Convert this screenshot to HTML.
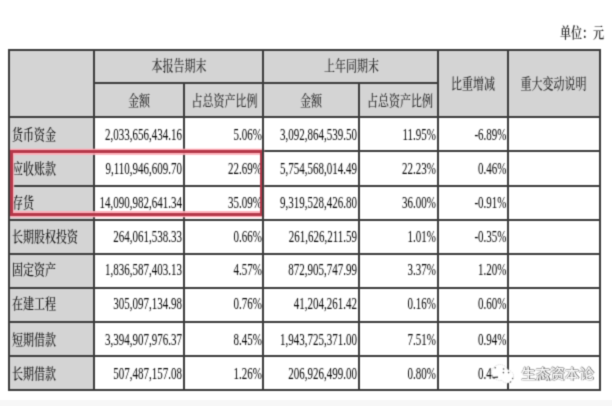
<!DOCTYPE html>
<html><head><meta charset="utf-8"><style>
html,body{margin:0;padding:0;background:#fff;}
body{width:612px;height:406px;position:relative;overflow:hidden;}
#w{position:absolute;left:0;top:0;width:612px;height:406px;background:#fff;filter:url(#fb);}
#w>div{position:absolute;}
.c,.n{height:20px;line-height:20px;font-size:11px;white-space:nowrap;color:#222;font-family:"Liberation Serif","Noto Serif CJK SC",serif;}
.c{transform:scaleY(1.3);font-weight:500;color:#111;}
.h{font-weight:500;color:#2c2c2c;}
.n{transform:scaleY(1.56);color:#000;}
.red{border:3px solid #b5394a;box-shadow:0 0 0 1.3px rgba(255,170,180,.95),inset 0 2px 0 0 rgba(255,175,185,.9),inset 0 -2px 0 0 rgba(255,175,185,.9),inset 1.2px 0 0 0 rgba(255,175,185,.9);}
.wm{height:20px;line-height:20px;font-size:14.6px;font-family:"Noto Sans CJK SC","WenQuanYi Zen Hei",sans-serif;color:#fff;
text-shadow:0.8px 0.9px 0 #4a4a4a,-0.6px 0 0 #999,0 -0.6px 0 #aaa;font-weight:500;transform:scaleY(0.93);}
.bot{background:#f7f7f7;}
</style></head><body><svg width="0" height="0" style="position:absolute"><filter id="fb" x="0" y="0" width="100%" height="100%" color-interpolation-filters="sRGB"><feConvolveMatrix order="3" kernelMatrix="0.0622 0.2494 0.0622 0.2494 1.0000 0.2494 0.0622 0.2494 0.0622" preserveAlpha="true" edgeMode="duplicate"/></filter></svg><div id="w">
<div class="bot" style="left:0;top:399.5px;width:612px;height:7px;"></div>
<div style="left:8px;top:49px;width:593px;height:67px;background:#d4d4d4;"></div>
<div style="left:8px;top:116px;width:85px;height:273px;background:#d4d4d4;"></div>
<div style="left:8px;top:49px;width:593px;height:2px;background:#3c3c3c;"></div>
<div style="left:8px;top:116px;width:593px;height:2px;background:#3c3c3c;"></div>
<div style="left:8px;top:150px;width:593px;height:2px;background:#3c3c3c;"></div>
<div style="left:8px;top:185px;width:593px;height:2px;background:#3c3c3c;"></div>
<div style="left:8px;top:219px;width:593px;height:2px;background:#3c3c3c;"></div>
<div style="left:8px;top:253px;width:593px;height:2px;background:#3c3c3c;"></div>
<div style="left:8px;top:287px;width:593px;height:2px;background:#3c3c3c;"></div>
<div style="left:8px;top:321px;width:593px;height:2px;background:#3c3c3c;"></div>
<div style="left:8px;top:355px;width:593px;height:2px;background:#3c3c3c;"></div>
<div style="left:8px;top:389px;width:593px;height:2px;background:#3c3c3c;"></div>
<div style="left:93px;top:82px;width:344px;height:2px;background:#3c3c3c;"></div>
<div style="left:8px;top:49px;width:2px;height:342px;background:#3c3c3c;"></div>
<div style="left:93px;top:49px;width:2px;height:342px;background:#3c3c3c;"></div>
<div style="left:262px;top:49px;width:2px;height:342px;background:#3c3c3c;"></div>
<div style="left:437px;top:49px;width:2px;height:342px;background:#3c3c3c;"></div>
<div style="left:507px;top:49px;width:2px;height:342px;background:#3c3c3c;"></div>
<div style="left:599px;top:49px;width:2px;height:342px;background:#3c3c3c;"></div>
<div style="left:183px;top:82px;width:2px;height:309px;background:#3c3c3c;"></div>
<div style="left:358px;top:82px;width:2px;height:309px;background:#3c3c3c;"></div>
<div class="c h" style="left:151.5px;top:56.20px;">本报告期末</div>
<div class="c h" style="left:324px;top:56.20px;">上年同期末</div>
<div class="c h" style="left:128px;top:91.25px;">金额</div>
<div class="c h" style="left:191.5px;top:91.25px;">占总资产比例</div>
<div class="c h" style="left:300px;top:91.25px;">金额</div>
<div class="c h" style="left:367px;top:91.25px;">占总资产比例</div>
<div class="c h" style="left:451px;top:73.75px;">比重增减</div>
<div class="c h" style="left:520.5px;top:73.90px;">重大变动说明</div>
<div class="c" style="left:560px;top:22.75px;font-weight:600;color:#222">单位：元</div>
<div class="c" style="left:12px;top:125.00px;">货币资金</div>
<div class="n" style="right:430px;top:124.00px;">2,033,656,434.16</div>
<div class="n" style="right:350px;top:124.00px;">5.06%</div>
<div class="n" style="right:255px;top:124.00px;">3,092,864,539.50</div>
<div class="n" style="right:176px;top:124.00px;">11.95%</div>
<div class="n" style="right:105.5px;top:124.00px;">-6.89%</div>
<div class="c" style="left:12px;top:158.50px;">应收账款</div>
<div class="n" style="right:430px;top:157.50px;">9,110,946,609.70</div>
<div class="n" style="right:350px;top:157.50px;">22.69%</div>
<div class="n" style="right:255px;top:157.50px;">5,754,568,014.49</div>
<div class="n" style="right:176px;top:157.50px;">22.23%</div>
<div class="n" style="right:105.5px;top:157.50px;">0.46%</div>
<div class="c" style="left:12px;top:192.60px;">存货</div>
<div class="n" style="right:430px;top:191.60px;">14,090,982,641.34</div>
<div class="n" style="right:350px;top:191.60px;">35.09%</div>
<div class="n" style="right:255px;top:191.60px;">9,319,528,426.80</div>
<div class="n" style="right:176px;top:191.60px;">36.00%</div>
<div class="n" style="right:105.5px;top:191.60px;">-0.91%</div>
<div class="c" style="left:12px;top:226.50px;">长期股权投资</div>
<div class="n" style="right:430px;top:225.50px;">264,061,538.33</div>
<div class="n" style="right:350px;top:225.50px;">0.66%</div>
<div class="n" style="right:255px;top:225.50px;">261,626,211.59</div>
<div class="n" style="right:176px;top:225.50px;">1.01%</div>
<div class="n" style="right:105.5px;top:225.50px;">-0.35%</div>
<div class="c" style="left:12px;top:260.40px;">固定资产</div>
<div class="n" style="right:430px;top:259.40px;">1,836,587,403.13</div>
<div class="n" style="right:350px;top:259.40px;">4.57%</div>
<div class="n" style="right:255px;top:259.40px;">872,905,747.99</div>
<div class="n" style="right:176px;top:259.40px;">3.37%</div>
<div class="n" style="right:105.5px;top:259.40px;">1.20%</div>
<div class="c" style="left:12px;top:294.40px;">在建工程</div>
<div class="n" style="right:430px;top:293.40px;">305,097,134.98</div>
<div class="n" style="right:350px;top:293.40px;">0.76%</div>
<div class="n" style="right:255px;top:293.40px;">41,204,261.42</div>
<div class="n" style="right:176px;top:293.40px;">0.16%</div>
<div class="n" style="right:105.5px;top:293.40px;">0.60%</div>
<div class="c" style="left:12px;top:329.60px;">短期借款</div>
<div class="n" style="right:430px;top:328.60px;">3,394,907,976.37</div>
<div class="n" style="right:350px;top:328.60px;">8.45%</div>
<div class="n" style="right:255px;top:328.60px;">1,943,725,371.00</div>
<div class="n" style="right:176px;top:328.60px;">7.51%</div>
<div class="n" style="right:105.5px;top:328.60px;">0.94%</div>
<div class="c" style="left:12px;top:363.50px;">长期借款</div>
<div class="n" style="right:430px;top:362.50px;">507,487,157.08</div>
<div class="n" style="right:350px;top:362.50px;">1.26%</div>
<div class="n" style="right:255px;top:362.50px;">206,926,499.00</div>
<div class="n" style="right:176px;top:362.50px;">0.80%</div>
<div class="n" style="right:105.5px;top:362.50px;">0.46%</div>
<div class="red" style="left:9.5px;top:150px;width:247.5px;height:60px;"></div>
<div style="left:8px;top:49px;width:2px;height:342px;background:#3c3c3c;"></div>
<div style="left:262px;top:49px;width:2px;height:342px;background:#3c3c3c;"></div>
<svg style="position:absolute;left:488px;top:361.5px" width="30" height="24" viewBox="0 0 30 24">
<g fill="#fff" stroke="#c8c8c8" stroke-width="0.8" stroke-dasharray="1.2 1">
<ellipse cx="12" cy="10.5" rx="8.3" ry="7.8"/>
<ellipse cx="19" cy="14.5" rx="6.5" ry="6.5"/>
</g>
<g fill="#fff">
<ellipse cx="12" cy="10.5" rx="7.8" ry="7.3"/>
<ellipse cx="19" cy="14.5" rx="6" ry="6"/>
</g>
<path d="M4.5 15.6 L10 15.2" stroke="#333" stroke-width="1.2"/>
<g fill="#555">
<circle cx="7.2" cy="5.8" r="0.8"/><circle cx="15.6" cy="7" r="0.8"/>
<circle cx="15.4" cy="10.6" r="0.8"/><circle cx="20.6" cy="10.6" r="0.8"/>
<circle cx="24.6" cy="16.4" r="0.7"/><circle cx="22.5" cy="20" r="0.7"/>
</g></svg>
<div class="wm" style="left:521px;top:363px;">生态资本论</div>
</div></body></html>
